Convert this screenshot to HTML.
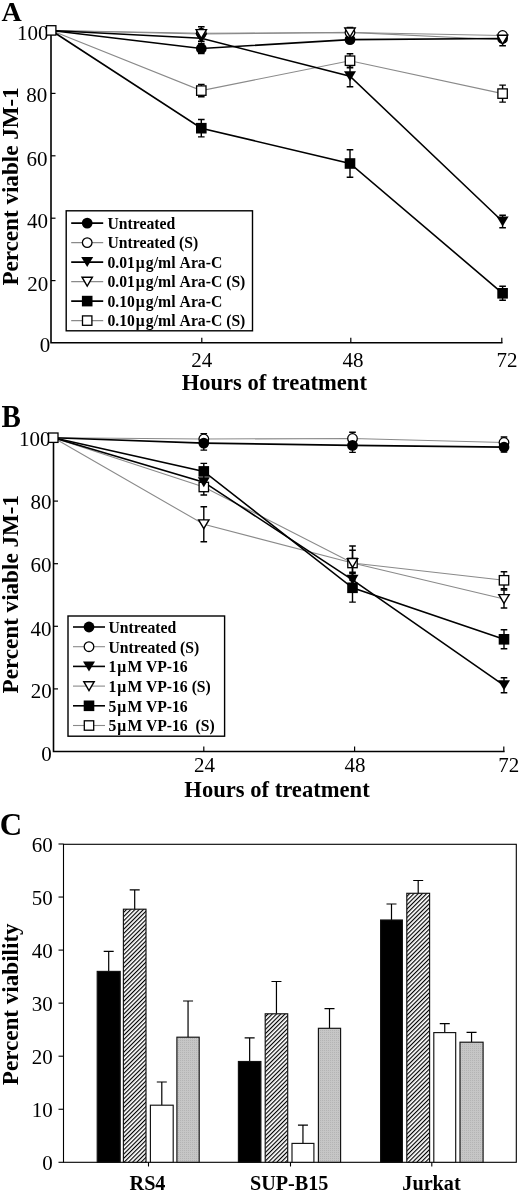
<!DOCTYPE html><html><head><meta charset="utf-8"><style>html,body{margin:0;padding:0;background:#fff;}body{width:520px;height:1192px;overflow:hidden;font-family:"Liberation Serif",serif;}svg{display:block;filter:grayscale(1);}</style></head><body><svg width="520" height="1192" viewBox="0 0 520 1192"><rect width="520" height="1192" fill="#fff"/><text x="1.5" y="21" font-family="Liberation Serif" font-weight="bold" font-size="28">A</text><text transform="translate(1.6 427.3) scale(1 1.06)" font-family="Liberation Serif" font-weight="bold" font-size="29">B</text><text x="-0.3" y="834.8" font-family="Liberation Serif" font-weight="bold" font-size="31">C</text><path d="M51 30.5V342.8H502.5" stroke="#000" stroke-width="1.6" fill="none"/><path d="M51 93.40H55.5" stroke="#000" stroke-width="1.2"/><path d="M51 155.80H55.5" stroke="#000" stroke-width="1.2"/><path d="M51 218.20H55.5" stroke="#000" stroke-width="1.2"/><path d="M51 280.60H55.5" stroke="#000" stroke-width="1.2"/><path d="M201.80 342.8V337.8" stroke="#000" stroke-width="1.2"/><path d="M350.80 342.8V337.8" stroke="#000" stroke-width="1.2"/><path d="M501.80 342.8V337.8" stroke="#000" stroke-width="1.2"/><text x="48.6" y="40.4" font-family="Liberation Serif" font-size="21" text-anchor="end">100</text><text x="47.2" y="101.6" font-family="Liberation Serif" font-size="21" text-anchor="end">80</text><text x="47.6" y="165.6" font-family="Liberation Serif" font-size="21" text-anchor="end">60</text><text x="47.9" y="227.85" font-family="Liberation Serif" font-size="21" text-anchor="end">40</text><text x="48.3" y="290.8" font-family="Liberation Serif" font-size="21" text-anchor="end">20</text><text x="50.2" y="351.9" font-family="Liberation Serif" font-size="21" text-anchor="end">0</text><text x="201.8" y="367" font-family="Liberation Serif" font-size="21" text-anchor="middle">24</text><text x="353" y="367" font-family="Liberation Serif" font-size="21" text-anchor="middle">48</text><text x="507" y="367" font-family="Liberation Serif" font-size="21" text-anchor="middle">72</text><text transform="translate(274.3 390.0) scale(1 1.045)" font-family="Liberation Serif" font-weight="bold" font-size="22.6" text-anchor="middle">Hours of treatment</text><text transform="translate(17.6 186.4) rotate(-90)" font-family="Liberation Serif" font-weight="bold" font-size="23.1" text-anchor="middle">Percent viable JM-1</text><path d="M51.20 30.50 L201.30 33.30 L350.00 32.50 L502.60 35.50" stroke="#8a8a8a" stroke-width="1.1" fill="none"/><path d="M51.20 30.50 L201.30 34.00 L350.00 32.40 L502.60 39.70" stroke="#8a8a8a" stroke-width="1.1" fill="none"/><path d="M51.20 30.50 L201.30 90.60 L350.00 60.70 L502.60 93.60" stroke="#8a8a8a" stroke-width="1.1" fill="none"/><path d="M51.20 30.50 L201.30 48.50 L350.00 39.60 L502.60 38.50" stroke="#000" stroke-width="1.6" fill="none"/><path d="M51.20 30.50 L201.30 38.30 L350.00 76.20 L502.60 221.50" stroke="#000" stroke-width="1.6" fill="none"/><path d="M51.20 30.50 L201.30 128.20 L350.00 163.50 L502.60 293.30" stroke="#000" stroke-width="1.6" fill="none"/><path d="M201.30 26.70V41.30M198.00 26.70H204.60M198.00 41.30H204.60" stroke="#000" stroke-width="1.4" fill="none"/><path d="M350.00 27.40V37.40M346.70 27.40H353.30M346.70 37.40H353.30" stroke="#000" stroke-width="1.4" fill="none"/><path d="M502.60 33.70V45.70M499.30 33.70H505.90M499.30 45.70H505.90" stroke="#000" stroke-width="1.4" fill="none"/><path d="M201.30 84.40V96.80M198.00 84.40H204.60M198.00 96.80H204.60" stroke="#000" stroke-width="1.4" fill="none"/><path d="M350.00 53.70V67.70M346.70 53.70H353.30M346.70 67.70H353.30" stroke="#000" stroke-width="1.4" fill="none"/><path d="M502.60 85.10V102.10M499.30 85.10H505.90M499.30 102.10H505.90" stroke="#000" stroke-width="1.4" fill="none"/><path d="M201.30 43.50V53.50M198.00 43.50H204.60M198.00 53.50H204.60" stroke="#000" stroke-width="1.4" fill="none"/><path d="M350.00 65.70V86.70M346.70 65.70H353.30M346.70 86.70H353.30" stroke="#000" stroke-width="1.4" fill="none"/><path d="M502.60 215.30V227.70M499.30 215.30H505.90M499.30 227.70H505.90" stroke="#000" stroke-width="1.4" fill="none"/><path d="M201.30 119.50V136.90M198.00 119.50H204.60M198.00 136.90H204.60" stroke="#000" stroke-width="1.4" fill="none"/><path d="M350.00 149.80V177.20M346.70 149.80H353.30M346.70 177.20H353.30" stroke="#000" stroke-width="1.4" fill="none"/><path d="M502.60 286.30V300.30M499.30 286.30H505.90M499.30 300.30H505.90" stroke="#000" stroke-width="1.4" fill="none"/><circle cx="201.30" cy="48.50" r="5.40" fill="#000"/><circle cx="350.00" cy="39.60" r="5.40" fill="#000"/><circle cx="502.60" cy="38.50" r="5.40" fill="#000"/><circle cx="201.30" cy="33.30" r="4.80" fill="#fff" stroke="#000" stroke-width="1.3"/><circle cx="350.00" cy="32.50" r="4.80" fill="#fff" stroke="#000" stroke-width="1.3"/><circle cx="502.60" cy="35.50" r="4.80" fill="#fff" stroke="#000" stroke-width="1.3"/><polygon points="195.30,33.30 207.30,33.30 201.30,43.30" fill="#000"/><polygon points="344.00,71.20 356.00,71.20 350.00,81.20" fill="#000"/><polygon points="496.60,216.50 508.60,216.50 502.60,226.50" fill="#000"/><polygon points="196.10,29.60 206.50,29.60 201.30,38.40" fill="#fff" stroke="#000" stroke-width="1.4" stroke-linejoin="miter"/><polygon points="344.80,28.00 355.20,28.00 350.00,36.80" fill="#fff" stroke="#000" stroke-width="1.4" stroke-linejoin="miter"/><polygon points="497.40,35.30 507.80,35.30 502.60,44.10" fill="#fff" stroke="#000" stroke-width="1.4" stroke-linejoin="miter"/><rect x="196.00" y="122.90" width="10.60" height="10.60" fill="#000"/><rect x="344.70" y="158.20" width="10.60" height="10.60" fill="#000"/><rect x="497.30" y="288.00" width="10.60" height="10.60" fill="#000"/><rect x="196.60" y="85.90" width="9.40" height="9.40" fill="#fff" stroke="#000" stroke-width="1.3"/><rect x="345.30" y="56.00" width="9.40" height="9.40" fill="#fff" stroke="#000" stroke-width="1.3"/><rect x="497.90" y="88.90" width="9.40" height="9.40" fill="#fff" stroke="#000" stroke-width="1.3"/><rect x="46.50" y="25.70" width="9.40" height="9.40" fill="#fff" stroke="#000" stroke-width="1.3"/><rect x="66.2" y="210.8" width="186.3" height="120.0" fill="#fff" stroke="#000" stroke-width="1.4"/><path d="M71.2 223.10H103.2" stroke="#000" stroke-width="1.6" fill="none"/><circle cx="87.20" cy="223.10" r="5.40" fill="#000"/><text x="107.5" y="228.90" font-family="Liberation Serif" font-weight="bold" font-size="15.7">Untreated</text><path d="M71.2 242.60H103.2" stroke="#8a8a8a" stroke-width="1.1" fill="none"/><circle cx="87.20" cy="242.60" r="4.80" fill="#fff" stroke="#000" stroke-width="1.3"/><text x="107.5" y="248.40" font-family="Liberation Serif" font-weight="bold" font-size="15.7">Untreated (S)</text><path d="M71.2 262.10H103.2" stroke="#000" stroke-width="1.6" fill="none"/><polygon points="81.20,257.10 93.20,257.10 87.20,267.10" fill="#000"/><text x="107.5" y="267.90" font-family="Liberation Serif" font-weight="bold" font-size="15.7">0.01<tspan dx="0.8">&#956;</tspan><tspan dx="1.2">g</tspan>/ml <tspan dx="1">Ara-C</tspan></text><path d="M71.2 281.60H103.2" stroke="#8a8a8a" stroke-width="1.1" fill="none"/><polygon points="82.00,277.20 92.40,277.20 87.20,286.00" fill="#fff" stroke="#000" stroke-width="1.4" stroke-linejoin="miter"/><text x="107.5" y="287.40" font-family="Liberation Serif" font-weight="bold" font-size="15.7">0.01<tspan dx="0.8">&#956;</tspan><tspan dx="1.2">g</tspan>/ml <tspan dx="1">Ara-C</tspan> (S)</text><path d="M71.2 301.10H103.2" stroke="#000" stroke-width="1.6" fill="none"/><rect x="81.90" y="295.80" width="10.60" height="10.60" fill="#000"/><text x="107.5" y="306.90" font-family="Liberation Serif" font-weight="bold" font-size="15.7">0.10<tspan dx="0.8">&#956;</tspan><tspan dx="1.2">g</tspan>/ml <tspan dx="1">Ara-C</tspan></text><path d="M71.2 320.60H103.2" stroke="#8a8a8a" stroke-width="1.1" fill="none"/><rect x="82.50" y="315.90" width="9.40" height="9.40" fill="#fff" stroke="#000" stroke-width="1.3"/><text x="107.5" y="326.40" font-family="Liberation Serif" font-weight="bold" font-size="15.7">0.10<tspan dx="0.8">&#956;</tspan><tspan dx="1.2">g</tspan>/ml <tspan dx="1">Ara-C</tspan> (S)</text><path d="M53.5 438.0V751.5H504.6" stroke="#000" stroke-width="1.6" fill="none"/><path d="M53.5 501.10H58.0" stroke="#000" stroke-width="1.2"/><path d="M53.5 563.70H58.0" stroke="#000" stroke-width="1.2"/><path d="M53.5 626.30H58.0" stroke="#000" stroke-width="1.2"/><path d="M53.5 688.90H58.0" stroke="#000" stroke-width="1.2"/><path d="M203.80 751.5V746.5" stroke="#000" stroke-width="1.2"/><path d="M354.60 751.5V746.5" stroke="#000" stroke-width="1.2"/><path d="M503.80 751.5V746.5" stroke="#000" stroke-width="1.2"/><text x="50.5" y="446.3" font-family="Liberation Serif" font-size="21" text-anchor="end">100</text><text x="51.4" y="508.8" font-family="Liberation Serif" font-size="21" text-anchor="end">80</text><text x="51.4" y="571.5" font-family="Liberation Serif" font-size="21" text-anchor="end">60</text><text x="51.4" y="635.5" font-family="Liberation Serif" font-size="21" text-anchor="end">40</text><text x="51.8" y="698.2" font-family="Liberation Serif" font-size="21" text-anchor="end">20</text><text x="51.8" y="761.1" font-family="Liberation Serif" font-size="21" text-anchor="end">0</text><text x="204.5" y="771.5" font-family="Liberation Serif" font-size="21" text-anchor="middle">24</text><text x="355" y="771.5" font-family="Liberation Serif" font-size="21" text-anchor="middle">48</text><text x="508.8" y="771.5" font-family="Liberation Serif" font-size="21" text-anchor="middle">72</text><text transform="translate(277 797.2) scale(1 1.045)" font-family="Liberation Serif" font-weight="bold" font-size="22.6" text-anchor="middle">Hours of treatment</text><text transform="translate(17.8 594.2) rotate(-90)" font-family="Liberation Serif" font-weight="bold" font-size="23.1" text-anchor="middle">Percent viable JM-1</text><path d="M53.50 437.80 L203.80 439.00 L352.50 438.50 L504.00 442.50" stroke="#8a8a8a" stroke-width="1.1" fill="none"/><path d="M53.50 437.80 L203.80 524.30 L352.50 563.00 L504.00 599.00" stroke="#8a8a8a" stroke-width="1.1" fill="none"/><path d="M53.50 437.80 L203.80 487.00 L352.50 563.00 L504.00 580.30" stroke="#8a8a8a" stroke-width="1.1" fill="none"/><path d="M53.50 437.80 L203.80 443.10 L352.50 445.40 L504.00 447.10" stroke="#000" stroke-width="1.6" fill="none"/><path d="M53.50 437.80 L203.80 482.20 L352.50 579.80 L504.00 685.30" stroke="#000" stroke-width="1.6" fill="none"/><path d="M53.50 437.80 L203.80 471.40 L352.50 587.80 L504.00 639.30" stroke="#000" stroke-width="1.6" fill="none"/><path d="M203.80 433.60V444.40M200.50 433.60H207.10M200.50 444.40H207.10" stroke="#000" stroke-width="1.4" fill="none"/><path d="M352.50 432.20V444.80M349.20 432.20H355.80M349.20 444.80H355.80" stroke="#000" stroke-width="1.4" fill="none"/><path d="M504.00 437.00V448.00M500.70 437.00H507.30M500.70 448.00H507.30" stroke="#000" stroke-width="1.4" fill="none"/><path d="M203.80 506.80V541.80M200.50 506.80H207.10M200.50 541.80H207.10" stroke="#000" stroke-width="1.4" fill="none"/><path d="M352.50 546.00V580.00M349.20 546.00H355.80M349.20 580.00H355.80" stroke="#000" stroke-width="1.4" fill="none"/><path d="M504.00 590.00V608.00M500.70 590.00H507.30M500.70 608.00H507.30" stroke="#000" stroke-width="1.4" fill="none"/><path d="M203.80 479.00V495.00M200.50 479.00H207.10M200.50 495.00H207.10" stroke="#000" stroke-width="1.4" fill="none"/><path d="M352.50 550.30V575.70M349.20 550.30H355.80M349.20 575.70H355.80" stroke="#000" stroke-width="1.4" fill="none"/><path d="M504.00 571.80V588.80M500.70 571.80H507.30M500.70 588.80H507.30" stroke="#000" stroke-width="1.4" fill="none"/><path d="M203.80 436.10V450.10M200.50 436.10H207.10M200.50 450.10H207.10" stroke="#000" stroke-width="1.4" fill="none"/><path d="M352.50 438.40V452.40M349.20 438.40H355.80M349.20 452.40H355.80" stroke="#000" stroke-width="1.4" fill="none"/><path d="M504.00 442.10V452.10M500.70 442.10H507.30M500.70 452.10H507.30" stroke="#000" stroke-width="1.4" fill="none"/><path d="M352.50 572.30V587.30M349.20 572.30H355.80M349.20 587.30H355.80" stroke="#000" stroke-width="1.4" fill="none"/><path d="M504.00 677.80V692.80M500.70 677.80H507.30M500.70 692.80H507.30" stroke="#000" stroke-width="1.4" fill="none"/><path d="M203.80 463.40V479.40M200.50 463.40H207.10M200.50 479.40H207.10" stroke="#000" stroke-width="1.4" fill="none"/><path d="M352.50 573.50V602.10M349.20 573.50H355.80M349.20 602.10H355.80" stroke="#000" stroke-width="1.4" fill="none"/><path d="M504.00 629.80V648.80M500.70 629.80H507.30M500.70 648.80H507.30" stroke="#000" stroke-width="1.4" fill="none"/><circle cx="203.80" cy="439.00" r="4.80" fill="#fff" stroke="none" stroke-width="1.3"/><circle cx="352.50" cy="438.50" r="4.80" fill="#fff" stroke="none" stroke-width="1.3"/><circle cx="504.00" cy="442.50" r="4.80" fill="#fff" stroke="none" stroke-width="1.3"/><polygon points="198.60,519.90 209.00,519.90 203.80,528.70" fill="#fff" stroke="none" stroke-width="1.4" stroke-linejoin="miter"/><polygon points="347.30,558.60 357.70,558.60 352.50,567.40" fill="#fff" stroke="none" stroke-width="1.4" stroke-linejoin="miter"/><polygon points="498.80,594.60 509.20,594.60 504.00,603.40" fill="#fff" stroke="none" stroke-width="1.4" stroke-linejoin="miter"/><rect x="199.10" y="482.30" width="9.40" height="9.40" fill="#fff" stroke="none" stroke-width="1.3"/><rect x="347.80" y="558.30" width="9.40" height="9.40" fill="#fff" stroke="none" stroke-width="1.3"/><rect x="499.30" y="575.60" width="9.40" height="9.40" fill="#fff" stroke="none" stroke-width="1.3"/><circle cx="203.80" cy="443.10" r="5.40" fill="#000"/><circle cx="352.50" cy="445.40" r="5.40" fill="#000"/><circle cx="504.00" cy="447.10" r="5.40" fill="#000"/><polygon points="197.80,477.20 209.80,477.20 203.80,487.20" fill="#000"/><polygon points="346.50,574.80 358.50,574.80 352.50,584.80" fill="#000"/><polygon points="498.00,680.30 510.00,680.30 504.00,690.30" fill="#000"/><rect x="198.50" y="466.10" width="10.60" height="10.60" fill="#000"/><rect x="347.20" y="582.50" width="10.60" height="10.60" fill="#000"/><rect x="498.70" y="634.00" width="10.60" height="10.60" fill="#000"/><circle cx="203.80" cy="439.00" r="4.80" fill="none" stroke="#000" stroke-width="1.3"/><circle cx="352.50" cy="438.50" r="4.80" fill="none" stroke="#000" stroke-width="1.3"/><circle cx="504.00" cy="442.50" r="4.80" fill="none" stroke="#000" stroke-width="1.3"/><polygon points="198.60,519.90 209.00,519.90 203.80,528.70" fill="none" stroke="#000" stroke-width="1.4" stroke-linejoin="miter"/><polygon points="347.30,558.60 357.70,558.60 352.50,567.40" fill="none" stroke="#000" stroke-width="1.4" stroke-linejoin="miter"/><polygon points="498.80,594.60 509.20,594.60 504.00,603.40" fill="none" stroke="#000" stroke-width="1.4" stroke-linejoin="miter"/><rect x="199.10" y="482.30" width="9.40" height="9.40" fill="none" stroke="#000" stroke-width="1.3"/><rect x="347.80" y="558.30" width="9.40" height="9.40" fill="none" stroke="#000" stroke-width="1.3"/><rect x="499.30" y="575.60" width="9.40" height="9.40" fill="none" stroke="#000" stroke-width="1.3"/><rect x="48.60" y="433.00" width="9.40" height="9.40" fill="#fff" stroke="#000" stroke-width="1.3"/><rect x="68" y="616" width="156.6" height="120.20000000000005" fill="#fff" stroke="#000" stroke-width="1.4"/><path d="M73 627.00H105" stroke="#000" stroke-width="1.6" fill="none"/><circle cx="89.00" cy="627.00" r="5.40" fill="#000"/><text x="108.5" y="632.80" font-family="Liberation Serif" font-weight="bold" font-size="15.7">Untreated</text><path d="M73 646.70H105" stroke="#8a8a8a" stroke-width="1.1" fill="none"/><circle cx="89.00" cy="646.70" r="4.80" fill="#fff" stroke="#000" stroke-width="1.3"/><text x="108.5" y="652.50" font-family="Liberation Serif" font-weight="bold" font-size="15.7">Untreated (S)</text><path d="M73 666.40H105" stroke="#000" stroke-width="1.6" fill="none"/><polygon points="83.00,661.40 95.00,661.40 89.00,671.40" fill="#000"/><text x="108.5" y="672.20" font-family="Liberation Serif" font-weight="bold" font-size="15.7">1<tspan dx="0.8">&#956;</tspan><tspan dx="1.4">M</tspan> VP-16</text><path d="M73 686.10H105" stroke="#8a8a8a" stroke-width="1.1" fill="none"/><polygon points="83.80,681.70 94.20,681.70 89.00,690.50" fill="#fff" stroke="#000" stroke-width="1.4" stroke-linejoin="miter"/><text x="108.5" y="691.90" font-family="Liberation Serif" font-weight="bold" font-size="15.7">1<tspan dx="0.8">&#956;</tspan><tspan dx="1.4">M</tspan> VP-16 (S)</text><path d="M73 705.80H105" stroke="#000" stroke-width="1.6" fill="none"/><rect x="83.70" y="700.50" width="10.60" height="10.60" fill="#000"/><text x="108.5" y="711.60" font-family="Liberation Serif" font-weight="bold" font-size="15.7">5<tspan dx="0.8">&#956;</tspan><tspan dx="1.4">M</tspan> VP-16</text><path d="M73 725.50H105" stroke="#8a8a8a" stroke-width="1.1" fill="none"/><rect x="84.30" y="720.80" width="9.40" height="9.40" fill="#fff" stroke="#000" stroke-width="1.3"/><text x="108.5" y="731.30" font-family="Liberation Serif" font-weight="bold" font-size="15.7">5<tspan dx="0.8">&#956;</tspan><tspan dx="1.4">M</tspan> VP-16&#160; (S)</text><defs><pattern id="hatch" patternUnits="userSpaceOnUse" width="3" height="3" patternTransform="rotate(45)"><rect width="3" height="3" fill="#fff"/><rect x="0" y="0" width="1.15" height="3" fill="#000"/></pattern><pattern id="stip" patternUnits="userSpaceOnUse" width="2" height="2"><rect width="2" height="2" fill="#c6c6c6"/><rect width="1" height="1" fill="#b4b4b4"/></pattern></defs><rect x="63.5" y="844.3" width="452.8" height="318" fill="none" stroke="#000" stroke-width="1.1"/><path d="M58.5 1162.30H63.5" stroke="#000" stroke-width="1.1"/><text x="52.7" y="1170.00" font-family="Liberation Serif" font-size="21" text-anchor="end">0</text><path d="M58.5 1109.25H63.5" stroke="#000" stroke-width="1.1"/><text x="52.7" y="1116.95" font-family="Liberation Serif" font-size="21" text-anchor="end">10</text><path d="M58.5 1056.20H63.5" stroke="#000" stroke-width="1.1"/><text x="52.7" y="1063.90" font-family="Liberation Serif" font-size="21" text-anchor="end">20</text><path d="M58.5 1003.15H63.5" stroke="#000" stroke-width="1.1"/><text x="52.7" y="1010.85" font-family="Liberation Serif" font-size="21" text-anchor="end">30</text><path d="M58.5 950.10H63.5" stroke="#000" stroke-width="1.1"/><text x="52.7" y="957.80" font-family="Liberation Serif" font-size="21" text-anchor="end">40</text><path d="M58.5 897.05H63.5" stroke="#000" stroke-width="1.1"/><text x="52.7" y="904.75" font-family="Liberation Serif" font-size="21" text-anchor="end">50</text><path d="M58.5 844.00H63.5" stroke="#000" stroke-width="1.1"/><text x="52.7" y="851.70" font-family="Liberation Serif" font-size="21" text-anchor="end">60</text><path d="M148.5 1162.3V1166.5" stroke="#000" stroke-width="1.1"/><path d="M290.5 1162.3V1166.5" stroke="#000" stroke-width="1.1"/><path d="M431.8 1162.3V1166.5" stroke="#000" stroke-width="1.1"/><text transform="translate(17.5 1004.3) rotate(-90)" font-family="Liberation Serif" font-weight="bold" font-size="23.1" text-anchor="middle">Percent viability</text><text x="147.5" y="1190.4" font-family="Liberation Serif" font-weight="bold" font-size="20.2" text-anchor="middle">RS4</text><text x="289.2" y="1190.4" font-family="Liberation Serif" font-weight="bold" font-size="20.2" text-anchor="middle">SUP-B15</text><text x="431.5" y="1190.4" font-family="Liberation Serif" font-weight="bold" font-size="20.2" text-anchor="middle">Jurkat</text><path d="M108.70 971.40V951.40M103.70 951.40H113.70" stroke="#000" stroke-width="1.2" fill="none"/><rect x="97.20" y="971.40" width="23.00" height="190.90" fill="#000" stroke="#111" stroke-width="1.15"/><path d="M134.70 909.20V889.80M129.70 889.80H139.70" stroke="#000" stroke-width="1.2" fill="none"/><rect x="123.40" y="909.20" width="22.60" height="253.10" fill="url(#hatch)" stroke="#111" stroke-width="1.15"/><path d="M161.80 1105.20V1082.00M156.80 1082.00H166.80" stroke="#000" stroke-width="1.2" fill="none"/><rect x="150.40" y="1105.20" width="22.80" height="57.10" fill="#fff" stroke="#111" stroke-width="1.15"/><path d="M188.05 1037.20V1001.00M183.05 1001.00H193.05" stroke="#000" stroke-width="1.2" fill="none"/><rect x="176.90" y="1037.20" width="22.30" height="125.10" fill="url(#stip)" stroke="#111" stroke-width="1.15"/><path d="M249.65 1061.50V1037.80M244.65 1037.80H254.65" stroke="#000" stroke-width="1.2" fill="none"/><rect x="238.40" y="1061.50" width="22.50" height="100.80" fill="#000" stroke="#111" stroke-width="1.15"/><path d="M276.45 1013.80V981.50M271.45 981.50H281.45" stroke="#000" stroke-width="1.2" fill="none"/><rect x="265.20" y="1013.80" width="22.50" height="148.50" fill="url(#hatch)" stroke="#111" stroke-width="1.15"/><path d="M302.95 1143.40V1125.20M297.95 1125.20H307.95" stroke="#000" stroke-width="1.2" fill="none"/><rect x="292.00" y="1143.40" width="21.90" height="18.90" fill="#fff" stroke="#111" stroke-width="1.15"/><path d="M329.50 1028.30V1008.60M324.50 1008.60H334.50" stroke="#000" stroke-width="1.2" fill="none"/><rect x="318.40" y="1028.30" width="22.20" height="134.00" fill="url(#stip)" stroke="#111" stroke-width="1.15"/><path d="M391.50 920.00V904.00M386.50 904.00H396.50" stroke="#000" stroke-width="1.2" fill="none"/><rect x="380.60" y="920.00" width="21.80" height="242.30" fill="#000" stroke="#111" stroke-width="1.15"/><path d="M418.20 893.30V880.50M413.20 880.50H423.20" stroke="#000" stroke-width="1.2" fill="none"/><rect x="406.80" y="893.30" width="22.80" height="269.00" fill="url(#hatch)" stroke="#111" stroke-width="1.15"/><path d="M444.75 1032.60V1023.70M439.75 1023.70H449.75" stroke="#000" stroke-width="1.2" fill="none"/><rect x="433.80" y="1032.60" width="21.90" height="129.70" fill="#fff" stroke="#111" stroke-width="1.15"/><path d="M471.55 1042.20V1032.30M466.55 1032.30H476.55" stroke="#000" stroke-width="1.2" fill="none"/><rect x="460.00" y="1042.20" width="23.10" height="120.10" fill="url(#stip)" stroke="#111" stroke-width="1.15"/></svg></body></html>
